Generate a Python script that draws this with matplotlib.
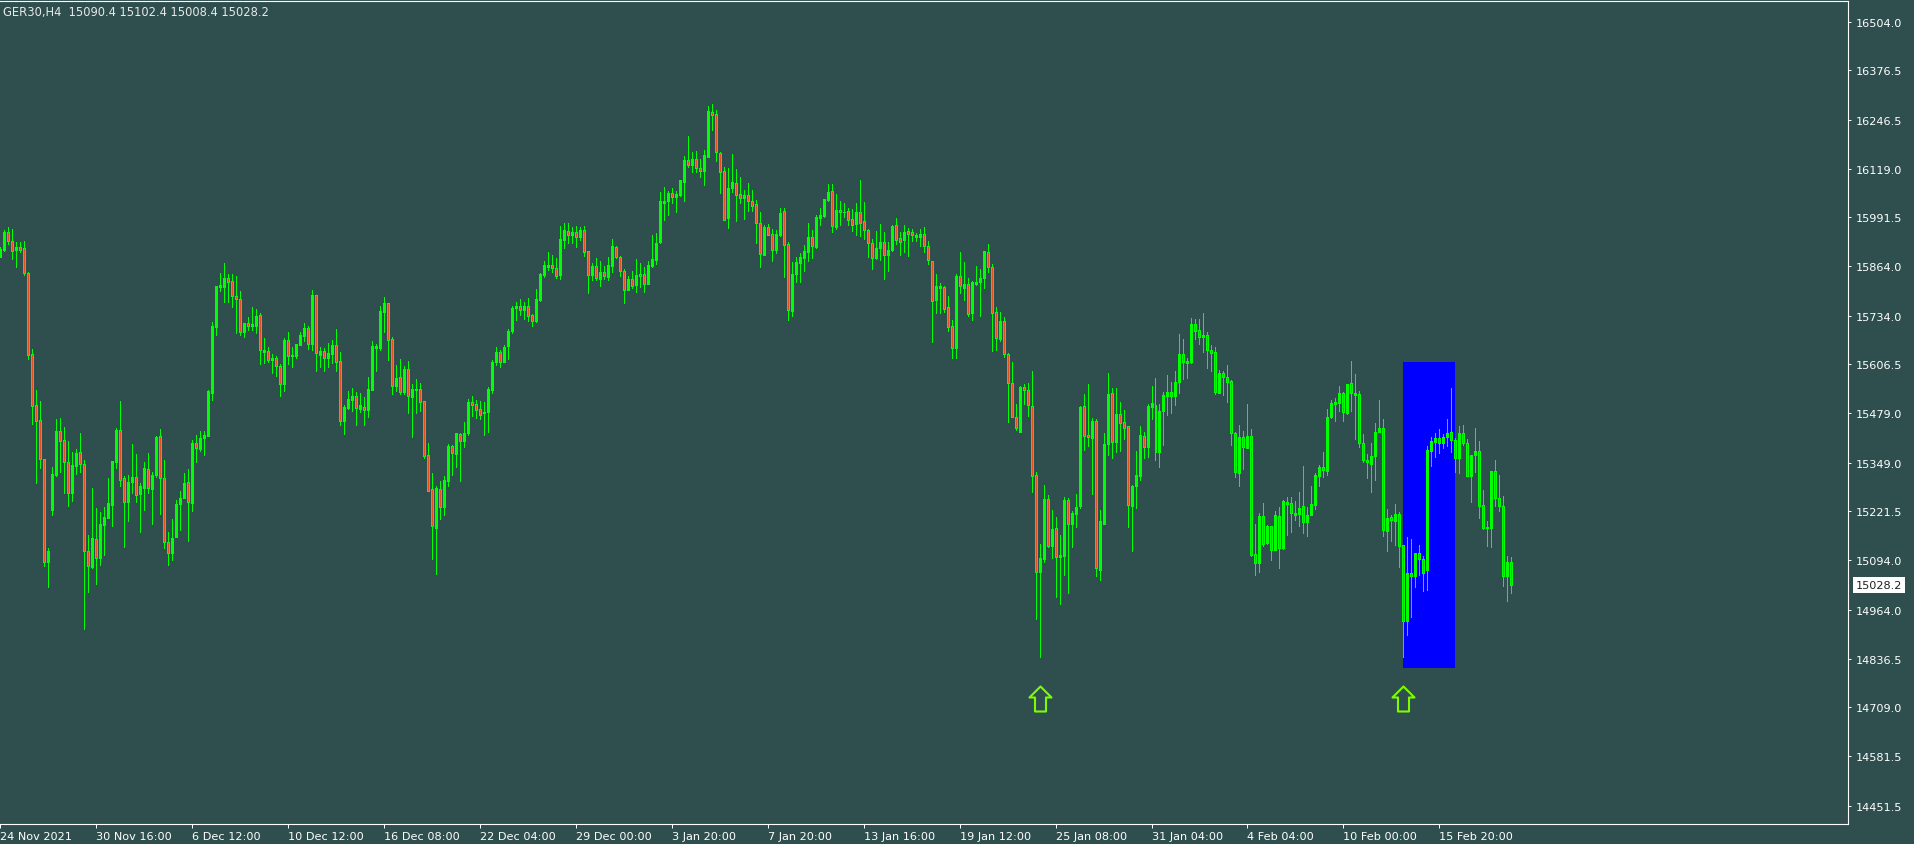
import numpy as np
import matplotlib
matplotlib.use("Agg")
import matplotlib.pyplot as plt
from matplotlib.path import Path
from matplotlib.patches import Rectangle

# GER30 H4 candles (oldest first)
opens = [
    15889, 15907, 15952, 15929, 15907, 15915, 15910, 15847, 15634, 15500, 15460, 15359, 15090, 15225, 15318, 15432,
    15408, 15350, 15271, 15341, 15376, 15347, 15119, 15077, 15149, 15099, 15187, 15204, 15239, 15352, 15435, 15308,
    15247, 15298, 15313, 15267, 15283, 15332, 15280, 15317, 15418, 15308, 15141, 15112, 15155, 15241, 15256, 15299,
    15243, 15400, 15385, 15413, 15420, 15531, 15705, 15810, 15810, 15832, 15826, 15786, 15779, 15692, 15714, 15706,
    15708, 15736, 15640, 15642, 15619, 15623, 15602, 15555, 15670, 15629, 15629, 15658, 15682, 15702, 15660, 15788,
    15632, 15642, 15624, 15635, 15657, 15615, 15458, 15492, 15514, 15523, 15490, 15495, 15488, 15540, 15650, 15650,
    15745, 15767, 15673, 15549, 15573, 15535, 15595, 15520, 15540, 15542, 15510, 15369, 15280, 15178, 15280, 15232,
    15302, 15394, 15372, 15424, 15407, 15427, 15509, 15503, 15490, 15480, 15481, 15540, 15612, 15640, 15614, 15656,
    15695, 15755, 15759, 15750, 15759, 15736, 15721, 15775, 15841, 15862, 15867, 15860, 15841, 15933, 15955, 15946,
    15952, 15941, 15958, 15903, 15841, 15865, 15830, 15848, 15836, 15863, 15913, 15889, 15852, 15802, 15830, 15815,
    15843, 15843, 15817, 15865, 15880, 15926, 16030, 16034, 16054, 16046, 16051, 16085, 16142, 16129, 16144, 16122,
    16114, 16150, 16266, 16262, 16159, 16112, 15989, 16068, 16081, 16053, 16041, 16051, 16033, 16026, 15978, 15894,
    15965, 15947, 15907, 15945, 16007, 15922, 15747, 15843, 15872, 15886, 15902, 15939, 15915, 15990, 15994, 16037,
    16060, 15967, 16011, 16005, 16007, 15987, 15974, 16005, 15981, 15959, 15924, 15885, 15910, 15926, 15894, 15906,
    15972, 15937, 15933, 15956, 15952, 15941, 15941, 15947, 15917, 15876, 15775, 15807, 15808, 15756, 15706, 15650,
    15837, 15807, 15816, 15741, 15817, 15821, 15832, 15900, 15861, 15743, 15673, 15719, 15634, 15557, 15468, 15429,
    15547, 15540, 15497, 15317, 15064, 15097, 15254, 15132, 15177, 15101, 15106, 15252, 15190, 15215, 15237, 15497,
    15422, 15413, 15458, 15069, 15190, 15398, 15531, 15403, 15477, 15455, 15444, 15237, 15287, 15315, 15420, 15391,
    15494, 15501, 15378, 15484, 15525, 15533, 15523, 15561, 15634, 15609, 15612, 15712, 15697, 15679, 15684, 15644,
    15638, 15532, 15584, 15574, 15562, 15426, 15322, 15417, 15388, 15418, 15110, 15086, 15209, 15139, 15183, 15121,
    15210, 15125, 15247, 15243, 15213, 15215, 15235, 15193, 15213, 15239, 15315, 15337, 15328, 15468, 15503, 15505,
    15531, 15479, 15557, 15527, 15529, 15401, 15356, 15346, 15366, 15429, 15439, 15171, 15208, 15197, 15215, 15134,
    14936, 15060, 15053, 15114, 15097, 15069, 15381, 15404, 15414, 15400, 15416, 15429, 15409, 15362, 15427, 15401,
    15315, 15370, 15379, 15238, 15178, 15177, 15327, 15256, 15237, 15052, 15090.4,
]
highs = [
    15913, 15958, 15965, 15961, 15926, 15926, 15929, 15849, 15648, 15539, 15511, 15359, 15127, 15337, 15463, 15466,
    15442, 15406, 15378, 15385, 15428, 15356, 15160, 15282, 15230, 15219, 15232, 15309, 15353, 15439, 15510, 15315,
    15317, 15398, 15372, 15295, 15352, 15374, 15324, 15420, 15437, 15356, 15169, 15202, 15251, 15274, 15322, 15333,
    15409, 15422, 15431, 15431, 15539, 15718, 15812, 15846, 15872, 15843, 15843, 15837, 15799, 15715, 15730, 15756,
    15752, 15741, 15676, 15652, 15634, 15629, 15607, 15676, 15691, 15652, 15660, 15691, 15715, 15708, 15801, 15788,
    15651, 15650, 15663, 15670, 15699, 15640, 15500, 15537, 15545, 15533, 15532, 15520, 15573, 15669, 15660, 15760,
    15784, 15767, 15677, 15606, 15621, 15602, 15616, 15556, 15568, 15558, 15510, 15400, 15322, 15287, 15300, 15315,
    15398, 15396, 15427, 15426, 15455, 15516, 15523, 15514, 15510, 15509, 15547, 15619, 15651, 15643, 15657, 15699,
    15760, 15769, 15778, 15769, 15780, 15738, 15804, 15846, 15878, 15900, 15893, 15885, 15970, 15977, 15977, 15965,
    15970, 15967, 15970, 15904, 15872, 15885, 15876, 15865, 15887, 15935, 15917, 15891, 15856, 15837, 15850, 15883,
    15872, 15861, 15878, 15944, 15951, 16059, 16072, 16061, 16068, 16060, 16089, 16151, 16205, 16162, 16164, 16144,
    16168, 16282, 16288, 16273, 16162, 16123, 16122, 16157, 16118, 16096, 16063, 16081, 16063, 16038, 16005, 15972,
    15974, 15961, 15958, 16015, 16015, 15926, 15875, 15889, 15898, 15919, 15978, 15958, 15998, 16015, 16040, 16079,
    16079, 16053, 16035, 16029, 16015, 16013, 16029, 16089, 16031, 15961, 15935, 15957, 15974, 15952, 15928, 15972,
    15989, 15952, 15972, 15964, 15961, 15951, 15961, 15965, 15929, 15878, 15843, 15820, 15813, 15786, 15723, 15842,
    15902, 15874, 15832, 15826, 15863, 15856, 15904, 15922, 15869, 15756, 15745, 15730, 15636, 15614, 15503, 15549,
    15555, 15558, 15590, 15324, 15136, 15291, 15265, 15226, 15206, 15160, 15259, 15256, 15222, 15267, 15497, 15529,
    15555, 15466, 15464, 15225, 15426, 15584, 15545, 15545, 15507, 15487, 15446, 15292, 15379, 15446, 15430, 15503,
    15549, 15570, 15503, 15533, 15579, 15560, 15590, 15686, 15673, 15623, 15728, 15725, 15725, 15741, 15692, 15657,
    15653, 15592, 15590, 15605, 15566, 15430, 15448, 15431, 15503, 15437, 15189, 15218, 15244, 15186, 15184, 15222,
    15232, 15252, 15259, 15259, 15250, 15273, 15341, 15234, 15289, 15322, 15343, 15376, 15490, 15513, 15519, 15549,
    15535, 15555, 15615, 15581, 15536, 15424, 15372, 15401, 15452, 15513, 15464, 15228, 15211, 15241, 15219, 15134,
    15154, 15149, 15113, 15134, 15106, 15394, 15416, 15427, 15437, 15424, 15464, 15545, 15413, 15446, 15448, 15411,
    15369, 15440, 15405, 15278, 15196, 15328, 15355, 15317, 15261, 15104, 15102.4,
]
lows = [
    15887, 15904, 15922, 15882, 15862, 15901, 15841, 15620, 15450, 15296, 15335, 15079, 15024, 15213, 15315, 15326,
    15270, 15237, 15250, 15319, 15326, 14914, 15011, 15073, 15031, 15081, 15108, 15204, 15184, 15336, 15289, 15129,
    15197, 15271, 15247, 15168, 15226, 15271, 15188, 15311, 15215, 15127, 15082, 15095, 15155, 15174, 15256, 15145,
    15223, 15350, 15381, 15370, 15420, 15514, 15684, 15799, 15769, 15769, 15756, 15690, 15684, 15677, 15696, 15696,
    15689, 15608, 15610, 15614, 15584, 15577, 15525, 15538, 15608, 15601, 15623, 15658, 15667, 15647, 15645, 15588,
    15601, 15590, 15601, 15609, 15588, 15449, 15424, 15490, 15485, 15449, 15481, 15449, 15470, 15540, 15588, 15645,
    15692, 15619, 15529, 15536, 15529, 15529, 15479, 15417, 15479, 15484, 15361, 15276, 15097, 15058, 15202, 15212,
    15289, 15317, 15339, 15302, 15389, 15422, 15472, 15465, 15464, 15423, 15429, 15531, 15605, 15601, 15614, 15621,
    15690, 15724, 15736, 15725, 15720, 15708, 15718, 15772, 15835, 15854, 15848, 15832, 15830, 15911, 15924, 15924,
    15915, 15932, 15891, 15793, 15828, 15828, 15813, 15830, 15828, 15848, 15885, 15839, 15767, 15800, 15807, 15797,
    15810, 15797, 15817, 15862, 15870, 15924, 15985, 15998, 16028, 16006, 16048, 16033, 16124, 16109, 16111, 16098,
    16077, 16150, 16219, 16140, 16054, 15985, 15964, 16059, 15983, 16029, 15987, 16007, 16009, 15924, 15861, 15894,
    15944, 15878, 15898, 15942, 15836, 15724, 15734, 15821, 15823, 15852, 15876, 15885, 15911, 15972, 15992, 16033,
    15952, 15961, 15972, 15993, 15972, 15957, 15944, 15942, 15935, 15889, 15856, 15882, 15881, 15830, 15852, 15903,
    15922, 15894, 15902, 15891, 15930, 15930, 15917, 15900, 15869, 15666, 15741, 15741, 15745, 15695, 15623, 15623,
    15793, 15775, 15734, 15724, 15814, 15734, 15807, 15849, 15642, 15645, 15669, 15625, 15455, 15468, 15436, 15429,
    15503, 15472, 15273, 14940, 14840, 15088, 15128, 15099, 14998, 14978, 15055, 15007, 15129, 15182, 15231, 15382,
    15394, 15266, 15053, 15043, 15190, 15370, 15362, 15376, 15381, 15411, 15182, 15119, 15230, 15305, 15361, 15365,
    15464, 15355, 15337, 15396, 15475, 15478, 15501, 15532, 15567, 15571, 15610, 15673, 15660, 15640, 15597, 15590,
    15529, 15532, 15526, 15509, 15396, 15311, 15289, 15333, 15388, 15104, 15055, 15064, 15130, 15136, 15094, 15121,
    15073, 15123, 15160, 15169, 15200, 15184, 15165, 15156, 15211, 15228, 15289, 15311, 15317, 15465, 15459, 15485,
    15459, 15477, 15485, 15411, 15391, 15352, 15309, 15273, 15304, 15429, 15158, 15119, 15145, 15134, 15077, 14840,
    14899, 14946, 15025, 15055, 15012, 15017, 15341, 15363, 15375, 15387, 15394, 15376, 15326, 15322, 15396, 15314,
    15247, 15326, 15204, 15176, 15132, 15128, 15235, 15224, 15026, 14986, 15008.4,
]
closes = [
    15909, 15952, 15929, 15904, 15915, 15907, 15847, 15632, 15497, 15459, 15359, 15090, 15118, 15319, 15432, 15407,
    15350, 15271, 15343, 15374, 15347, 15117, 15079, 15151, 15099, 15188, 15206, 15243, 15353, 15435, 15305, 15247,
    15298, 15312, 15265, 15289, 15334, 15282, 15317, 15416, 15308, 15141, 15112, 15152, 15241, 15256, 15296, 15245,
    15402, 15387, 15413, 15422, 15537, 15706, 15811, 15814, 15832, 15823, 15786, 15779, 15692, 15715, 15706, 15712,
    15732, 15643, 15644, 15619, 15623, 15602, 15554, 15670, 15629, 15631, 15660, 15684, 15702, 15660, 15788, 15636,
    15642, 15624, 15636, 15657, 15614, 15458, 15494, 15516, 15525, 15492, 15499, 15488, 15542, 15654, 15656, 15746,
    15767, 15671, 15549, 15571, 15535, 15595, 15523, 15542, 15542, 15509, 15368, 15276, 15183, 15283, 15232, 15304,
    15394, 15375, 15427, 15407, 15427, 15509, 15500, 15488, 15475, 15483, 15542, 15612, 15640, 15614, 15651, 15695,
    15754, 15759, 15750, 15759, 15734, 15721, 15778, 15843, 15867, 15868, 15858, 15839, 15935, 15958, 15946, 15952,
    15941, 15958, 15902, 15841, 15865, 15832, 15849, 15837, 15867, 15917, 15889, 15852, 15802, 15830, 15813, 15841,
    15839, 15817, 15867, 15883, 15924, 16034, 16034, 16054, 16044, 16053, 16089, 16142, 16129, 16144, 16122, 16114,
    16155, 16269, 16260, 16162, 16111, 15985, 16068, 16083, 16051, 16041, 16050, 16033, 16022, 15978, 15896, 15965,
    15945, 15907, 15947, 16003, 15920, 15750, 15843, 15874, 15889, 15903, 15939, 15917, 15993, 15998, 16040, 16057,
    15970, 16011, 16005, 16006, 15985, 15972, 16005, 15978, 15959, 15924, 15885, 15910, 15926, 15894, 15906, 15970,
    15933, 15928, 15952, 15948, 15944, 15945, 15948, 15917, 15881, 15773, 15811, 15812, 15752, 15705, 15650, 15838,
    15811, 15816, 15738, 15821, 15821, 15832, 15903, 15861, 15740, 15675, 15721, 15633, 15558, 15470, 15439, 15547,
    15540, 15499, 15315, 15062, 15099, 15254, 15132, 15176, 15101, 15108, 15252, 15190, 15217, 15232, 15496, 15420,
    15416, 15458, 15073, 15196, 15398, 15529, 15404, 15477, 15452, 15440, 15239, 15287, 15317, 15422, 15391, 15497,
    15505, 15376, 15484, 15527, 15533, 15523, 15560, 15634, 15612, 15615, 15712, 15695, 15677, 15684, 15643, 15636,
    15534, 15584, 15573, 15561, 15426, 15326, 15417, 15389, 15418, 15108, 15086, 15209, 15136, 15183, 15121, 15212,
    15125, 15250, 15241, 15217, 15218, 15231, 15193, 15213, 15241, 15317, 15337, 15330, 15468, 15505, 15507, 15531,
    15481, 15555, 15531, 15532, 15400, 15357, 15350, 15366, 15429, 15439, 15173, 15204, 15199, 15215, 15130, 14936,
    15060, 15053, 15113, 15097, 15060, 15382, 15405, 15414, 15400, 15417, 15427, 15409, 15361, 15427, 15400, 15315,
    15369, 15379, 15237, 15178, 15180, 15327, 15256, 15237, 15052, 15088, 15028.2,
]

date_labels = [
    "24 Nov 2021", "30 Nov 16:00", "6 Dec 12:00", "10 Dec 12:00", "16 Dec 08:00", "22 Dec 04:00",
    "29 Dec 00:00", "3 Jan 20:00", "7 Jan 20:00", "13 Jan 16:00", "19 Jan 12:00", "25 Jan 08:00",
    "31 Jan 04:00", "4 Feb 04:00", "10 Feb 00:00", "15 Feb 20:00",
]
bars_per_label = 24
price_ticks = [16504.0, 16376.5, 16246.5, 16119.0, 15991.5, 15864.0, 15734.0, 15606.5, 15479.0,
               15349.0, 15221.5, 15094.0, 14964.0, 14836.5, 14709.0, 14581.5, 14451.5]
header = "GER30,H4  15090.4 15102.4 15008.4 15028.2"

signal_bars = [260, 351]      # up arrows under these candles
box_bars = (351, 364)         # blue rectangle, bar span
box_prices = (14812, 15613)   # blue rectangle, price span

bg = "#2f4f4f"
fg = "#ffffff"
bull_col = "#00ff00"
bear_fill = "#e0501a"
arrow_col = "#7cfc00"

W, H = 1914, 845
fig = plt.figure(figsize=(W / 100, H / 100), dpi=100, facecolor=bg)
# plot frame: x 0..1848 px, y 2..825 px
ax = fig.add_axes([0, (H - 825) / H, 1848 / W, 823 / H])
ax.set_facecolor(bg)

x = np.arange(len(closes))
o = np.array(opens, dtype=float)
c = np.array(closes, dtype=float)
hi = np.array(highs, dtype=float)
lo = np.array(lows, dtype=float)
up = c >= o

ax.add_patch(Rectangle((box_bars[0], box_prices[0]), box_bars[1] - box_bars[0],
                       box_prices[1] - box_prices[0], facecolor="#0000ff", edgecolor="none", zorder=1))

ax.vlines(x, lo, hi, color=bull_col, linewidth=0.72, antialiased=False, zorder=2)
ax.bar(x[up], c[up] - o[up], bottom=o[up], width=0.5, facecolor=bull_col, edgecolor=bull_col,
       linewidth=0.72, antialiased=False, zorder=3)
ax.bar(x[~up], o[~up] - c[~up], bottom=c[~up], width=0.5, facecolor=bear_fill, edgecolor=bull_col,
       linewidth=0.72, antialiased=False, zorder=3)

# hollow up arrow, drawn in pixels below the anchor (candle low)
arrow = Path([(0, -29), (11, -40), (5.5, -40), (5.5, -54), (-5.5, -54), (-5.5, -40), (-11, -40), (0, -29)],
             [Path.MOVETO] + [Path.LINETO] * 6 + [Path.CLOSEPOLY])
ax.plot(signal_bars, [lows[k] for k in signal_bars], linestyle="none", marker=arrow,
        markersize=2 * 54 * 0.72, markerfacecolor="none", markeredgecolor=arrow_col,
        markeredgewidth=1.5, zorder=4, clip_on=False)

ax.set_xlim(0.175, 462.2)
ax.set_ylim(14403.3, 16557.9)

ax.yaxis.tick_right()
ax.set_yticks(price_ticks)
ax.set_yticklabels([f"{p:.1f}" for p in price_ticks])
ax.tick_params(axis="y", colors=fg, labelsize=8.1, length=2.5, width=0.72, pad=3, labelcolor=fg)
ax.set_xticks([bars_per_label * i for i in range(len(date_labels))])
ax.set_xticklabels(date_labels, ha="left")
ax.tick_params(axis="x", colors=fg, labelsize=8.1, length=3, width=0.72, pad=2, labelcolor=fg)

for s in ax.spines.values():
    s.set_color(fg)
    s.set_linewidth(0.8)
ax.spines["left"].set_visible(False)

fig.text(3 / W, 1 - 6 / H, header, color="#e8e8e8", fontsize=8.3, ha="left", va="top")

last = closes[-1]
ax.text(1.0 + 8 / 1848, last, f"{last:.1f}", transform=ax.get_yaxis_transform(), color="#202020",
        fontsize=8.1, ha="left", va="center",
        bbox=dict(boxstyle="square,pad=0.25", facecolor="white", edgecolor="none"))

fig.savefig("out.png", dpi=100, facecolor=bg)
